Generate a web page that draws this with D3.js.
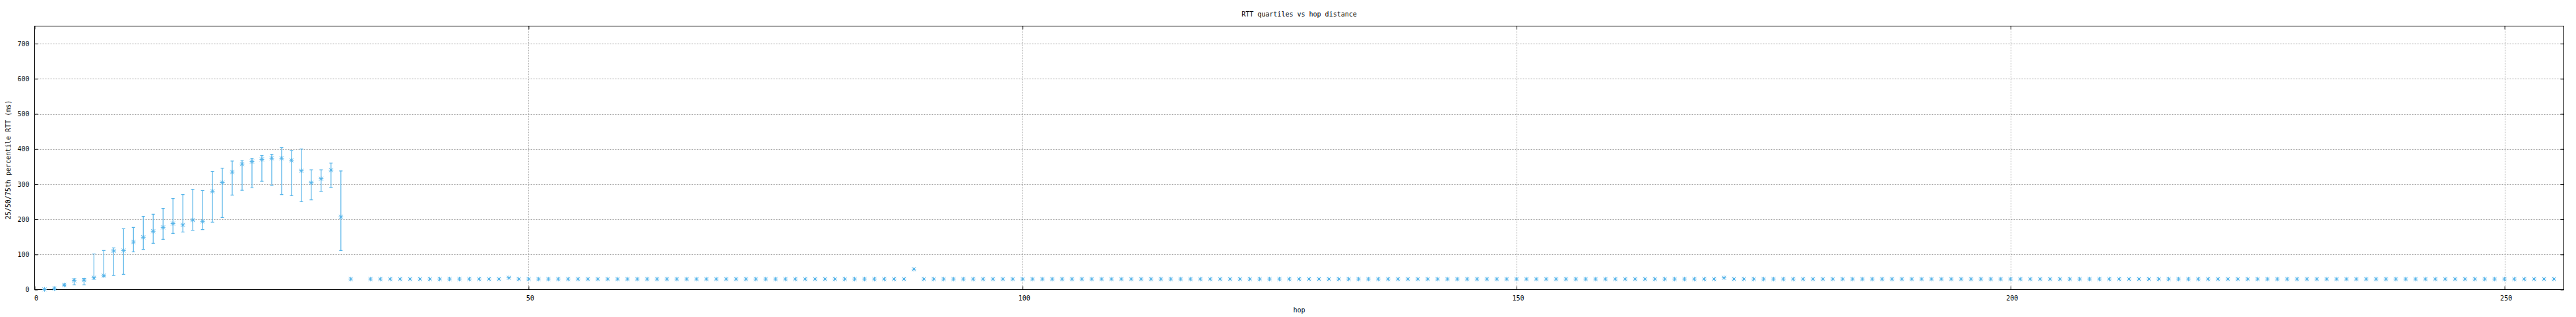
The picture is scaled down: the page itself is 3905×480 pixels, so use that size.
<!DOCTYPE html>
<html>
<head>
<meta charset="utf-8">
<script src="https://cdn.jsdelivr.net/npm/d3@7"></script>
<style>
  html, body { margin: 0; padding: 0; background: #fff; }
  svg { display: block; }
  text { font-family: "DejaVu Sans Mono", "Liberation Mono", monospace; font-size: 10px; fill: #000; }
</style>
</head>
<body>
<svg id="chart" width="3905" height="480"></svg>
<script>
// ---------------- DATA ----------------
const chartTitle = "RTT quartiles vs hop distance";
const xLabel = "hop";
const yLabel = "25/50/75th percentile RTT (ms)";
const xTicks = [0, 50, 100, 150, 200, 250];
const yTicks = [0, 100, 200, 300, 400, 500, 600, 700];

// hops with quartile error bars
const barHops = [1,2,3,4,5,6,7,8,9,10,11,12,13,14,15,16,17,18,19,20,21,22,23,24,25,26,27,28,29,30,31];
const barQ25  = [0,0,11,13.5,13.5,30,37,40,43.5,107.5,114.5,132,143,160,164,169,171,192,205,269,282.5,289.5,308.5,297,270.5,267,250,255.5,280,291,111];
const barMed  = [0.5,2.5,13,26,27,34,40,110,111,135.5,149,166,177,188,184,198,194,280,304.5,334.5,357.5,364.5,370.5,374,374,368,338,304,315.5,340,207];
const barQ75  = [1,7.5,16,31,32,101.5,111,118.5,173,177,208.5,214.5,231,259,270.5,285.5,282,336.5,345.5,366,367.5,374,381.5,385,404,396,400,341,341,360,337.5];

// hops with a single value (no spread); hop 33 has no data
const flatHops = [32,
  34,35,36,37,38,39,40,41,42,43,44,45,46,47,48,49,
  50,51,52,53,54,55,56,57,58,59,60,61,62,63,64,65,66,67,68,69,
  70,71,72,73,74,75,76,77,78,79,80,81,82,83,84,85,86,87,88,89,
  90,91,92,93,94,95,96,97,98,99,100,101,102,103,104,105,106,107,108,109,
  110,111,112,113,114,115,116,117,118,119,120,121,122,123,124,125,126,127,128,129,
  130,131,132,133,134,135,136,137,138,139,140,141,142,143,144,145,146,147,148,149,
  150,151,152,153,154,155,156,157,158,159,160,161,162,163,164,165,166,167,168,169,
  170,171,172,173,174,175,176,177,178,179,180,181,182,183,184,185,186,187,188,189,
  190,191,192,193,194,195,196,197,198,199,200,201,202,203,204,205,206,207,208,209,
  210,211,212,213,214,215,216,217,218,219,220,221,222,223,224,225,226,227,228,229,
  230,231,232,233,234,235,236,237,238,239,240,241,242,243,244,245,246,247,248,249,
  250,251,252,253,254,255];
const flatMed = [30,
  /* 34-47 */ 30,30,30,30,30,30,30,30,30,30,30,30,30,30,
  /* 48 */ 33.5,
  /* 49 */ 30,
  /* 50-69 */ 30,30,30,30,30,30,30,30,30,30,30,30,30,30,30,30,30,30,30,30,
  /* 70-88 */ 30,30,30,30,30,30,30,30,30,30,30,30,30,30,30,30,30,30,30,
  /* 89 */ 58,
  /* 90-109 */ 30,30,30,30,30,30,30,30,30,30,30,30,30,30,30,30,30,30,30,30,
  /* 110-129 */ 30,30,30,30,30,30,30,30,30,30,30,30,30,30,30,30,30,30,30,30,
  /* 130-149 */ 30,30,30,30,30,30,30,30,30,30,30,30,30,30,30,30,30,30,30,30,
  /* 150-169 */ 30,30,30,30,30,30,30,30,30,30,30,30,30,30,30,30,30,30,30,30,
  /* 170 */ 30,
  /* 171 */ 33.5,
  /* 172-189 */ 30,30,30,30,30,30,30,30,30,30,30,30,30,30,30,30,30,30,
  /* 190-209 */ 30,30,30,30,30,30,30,30,30,30,30,30,30,30,30,30,30,30,30,30,
  /* 210-229 */ 30,30,30,30,30,30,30,30,30,30,30,30,30,30,30,30,30,30,30,30,
  /* 230-249 */ 30,30,30,30,30,30,30,30,30,30,30,30,30,30,30,30,30,30,30,30,
  /* 250-255 */ 30,30,30,30,30,30];

// ---------------- LAYOUT ----------------
const W = 3905, H = 480;
const plotL = 52.5, plotR = 3886.5, plotT = 39.5, plotB = 438.5;
const color = "#56b4e9";

const svg = d3.select("#chart");
const x = d3.scaleLinear().domain([0, 256]).range([plotL, plotR]);
const y = d3.scaleLinear().domain([0, 750]).range([plotB, plotT]);

// grid
const grid = svg.append("g").attr("stroke", "#a0a0a0").attr("stroke-width", 1).attr("stroke-dasharray", "2,2");
grid.selectAll("line.gy").data(yTicks.filter(d => d > 0)).join("line")
  .attr("x1", plotL).attr("x2", plotR)
  .attr("y1", d => Math.round(y(d)) + 0.5).attr("y2", d => Math.round(y(d)) + 0.5);
grid.selectAll("line.gx").data(xTicks.filter(d => d > 0)).join("line")
  .attr("y1", plotT).attr("y2", plotB)
  .attr("x1", d => Math.round(x(d)) + 0.5).attr("x2", d => Math.round(x(d)) + 0.5);

// axes (ticks inward, mirrored)
const tickLen = 5;
const axB = svg.append("g").attr("transform", `translate(0,${plotB})`)
  .call(d3.axisBottom(x).tickValues(xTicks).tickSizeInner(-tickLen).tickSizeOuter(0).tickPadding(9));
const axL = svg.append("g").attr("transform", `translate(${plotL},0)`)
  .call(d3.axisLeft(y).tickValues(yTicks).tickSizeInner(-tickLen).tickSizeOuter(0).tickPadding(8));
const axT = svg.append("g").attr("transform", `translate(0,${plotT})`)
  .call(d3.axisTop(x).tickValues(xTicks).tickSizeInner(-tickLen).tickSizeOuter(0).tickFormat(""));
const axR = svg.append("g").attr("transform", `translate(${plotR},0)`)
  .call(d3.axisRight(y).tickValues(yTicks).tickSizeInner(-tickLen).tickSizeOuter(0).tickFormat(""));
[axB, axL, axT, axR].forEach(a => {
  a.select(".domain").remove();
  a.selectAll("line").attr("stroke", "#000");
  a.selectAll("text").attr("font-family", "DejaVu Sans Mono, monospace").attr("font-size", 10).attr("fill", "#000");
});
axB.selectAll("text").attr("dx", 2);

// border
svg.append("rect").attr("x", plotL).attr("y", plotT)
  .attr("width", plotR - plotL).attr("height", plotB - plotT)
  .attr("fill", "none").attr("stroke", "#000").attr("stroke-width", 1);

// error bars
const bars = barHops.map((h, i) => ({ h, lo: barQ25[i], med: barMed[i], hi: barQ75[i] }));
const eb = svg.append("g").attr("stroke", color).attr("stroke-width", 1.2).attr("fill", "none");
const cap = 2.5;
eb.selectAll("path").data(bars.filter(d => d.hi > d.lo)).join("path")
  .attr("d", d => {
    const cx = x(d.h), y1 = y(d.lo), y2 = y(d.hi);
    return `M${cx},${y1}V${y2}M${cx - cap},${y1}H${cx + cap}M${cx - cap},${y2}H${cx + cap}`;
  });

// markers (asterisk)
const pts = bars.map(d => ({ h: d.h, v: d.med }))
  .concat(flatHops.map((h, i) => ({ h, v: flatMed[i] })));
const s = 3.5, sd = 3;
const mk = svg.append("g");
mk.selectAll("path").data(pts).join("path")
  .attr("transform", d => `translate(${x(d.h)},${y(d.v)})`)
  .attr("d", `M${-s},0H${s}M0,${-s}V${s}M${-sd},${-sd}L${sd},${sd}M${-sd},${sd}L${sd},${-sd}`)
  .attr("stroke", color).attr("stroke-width", 1).attr("fill", "none");
mk.selectAll("circle").data(pts).join("circle")
  .attr("cx", d => x(d.h)).attr("cy", d => y(d.v)).attr("r", 1.4).attr("fill", color);

// titles
svg.append("text").attr("x", (plotL + plotR) / 2).attr("y", 24.5)
  .attr("text-anchor", "middle").text(chartTitle);
svg.append("text").attr("x", (plotL + plotR) / 2).attr("y", 473)
  .attr("text-anchor", "middle").text(xLabel);
svg.append("text").attr("transform", `translate(15.5,${(plotT + plotB) / 2 + 3}) rotate(-90)`)
  .attr("text-anchor", "middle").text(yLabel);
</script>
</body>
</html>
